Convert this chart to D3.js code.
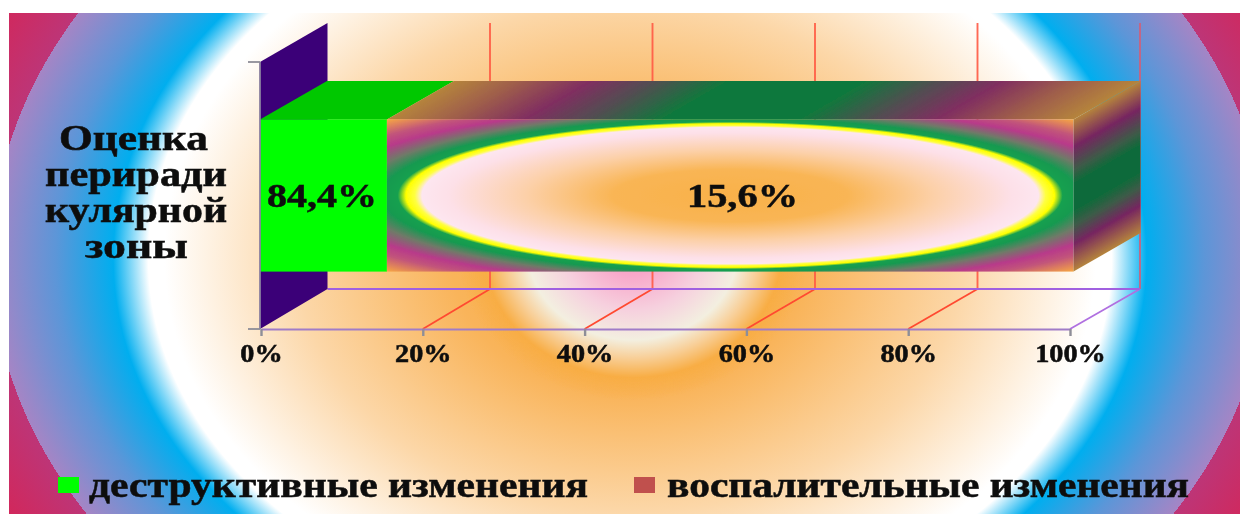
<!DOCTYPE html>
<html lang="ru"><head><meta charset="utf-8">
<script src="https://cdn.jsdelivr.net/npm/d3@7"></script>
<style>html,body{margin:0;padding:0;background:#fff;overflow:hidden}svg{display:block}
text{font-family:"Liberation Serif",serif;font-weight:bold;fill:#0c0c0c;stroke:#101010;stroke-width:.55px;paint-order:stroke}</style>
</head><body><svg id="c" width="1240" height="514"></svg>
<script>
const category = "Оценка перирадикулярной зоны";
const categoryLines = ["Оценка", "периради", "кулярной", "зоны"];
const seriesNames = ["деструктивные изменения", "воспалительные изменения"];
const barWidths = [15.6, 84.4];
const barLabels = ["84,4%", "15,6%"];
const tickValues = [0, 20, 40, 60, 80, 100];

const svg = d3.select("#c"), defs = svg.append("defs");
const xAxisS = d3.scaleLinear().domain([0,100]).range([261,1070]);
const xBar = d3.scaleLinear().domain([0,100]).range([260,1073.5]);
const depthX = 67, depthY = 38.5, floorDY = 40;
const xWall = d3.scaleLinear().domain([0,100]).range([327.5,1140]);
const y = d3.scaleBand().domain([category]).range([62,329]).paddingInner(.43).paddingOuter(.215);
const yTop = y(category), yBot = yTop + y.bandwidth();
const wallTop = 23, floorFront = y.range()[1], floorBack = floorFront - floorDY;

function stops(g, list){ g.selectAll("stop").data(list).join("stop")
  .attr("offset", d=>d[0]).attr("stop-color", d=>d[1]).attr("stop-opacity", d=>d[2]===undefined?1:d[2]); }

const f = defs.append("filter").attr("id","soft").attr("x","-5%").attr("y","-5%").attr("width","110%").attr("height","110%");
f.append("feGaussianBlur").attr("stdDeviation",.6);
const ft = defs.append("filter").attr("id","softT").attr("filterUnits","userSpaceOnUse").attr("x",0).attr("y",0).attr("width",1240).attr("height",514);
ft.append("feGaussianBlur").attr("stdDeviation",.75);

const RMAX = 1.2;
const bg = defs.append("radialGradient").attr("id","bg").attr("gradientUnits","userSpaceOnUse")
  .attr("cx",0).attr("cy",0).attr("r",1).attr("gradientTransform",`translate(630,258) scale(${638*RMAX},${488*RMAX})`);
stops(bg, [[0,"#f8a636"],[.28,"#f9b45a"],[.52,"#fcd7a8"],[.73,"#ffffff"],[.755,"#ffffff"],[.81,"#00aeef"],[.9,"#5c96d8"],[1,"#a585c5"],[1,"#bd3577"],[1.18,"#e01e48"]].map(d=>[d[0]/RMAX,d[1]]));

const glow = defs.append("radialGradient").attr("id","glow").attr("gradientUnits","userSpaceOnUse")
  .attr("cx",0).attr("cy",0).attr("r",1).attr("gradientTransform","translate(633,250) scale(175,150)");
stops(glow, [[0,"#f79ac4"],[.17,"#f8a8ca"],[.4,"#f6d0de"],[.6,"#f3efe0"],[.72,"#f8cf98"],[.85,"#f8ad44"],[1,"#f8ad44",0]]);

const front = defs.append("radialGradient").attr("id","front").attr("cx",.5).attr("cy",.5).attr("r",.7071);
stops(front, [[0,"#f9b14a"],[.24,"#f9b554"],[.42,"#fcd0a8"],[.58,"#fde0e8"],[.635,"#fde6f0"],[.65,"#ffff40"],[.668,"#ffff00"],[.685,"#12a050"],[.715,"#149a50"],[.77,"#6f7a68"],[.84,"#b83a8a"],[.9,"#c2557a"],[1,"#f7a743"]]);

const kT = -depthX/depthY;
const topG = defs.append("linearGradient").attr("id","topG").attr("gradientUnits","userSpaceOnUse")
  .attr("x1",xBar(barWidths[0])).attr("y1",0).attr("x2",xBar(100)).attr("y2",0)
  .attr("gradientTransform",`matrix(1,0,${kT},1,${-kT*yTop},0)`);
stops(topG, [[0,"#b5843c"],[.09,"#a0604a"],[.2,"#802e60"],[.3,"#4e5050"],[.4,"#10783c"],[.6,"#10783c"],[.7,"#4e5050"],[.8,"#802e60"],[.91,"#a0604a"],[1,"#b5843c"]]);

const mS = -depthY/depthX;
const sideG = defs.append("linearGradient").attr("id","sideG").attr("gradientUnits","userSpaceOnUse")
  .attr("x1",0).attr("y1",yTop).attr("x2",0).attr("y2",yBot)
  .attr("gradientTransform",`matrix(1,${mS},0,1,0,${-mS*xBar(100)})`);
stops(sideG, [[0,"#b5843c"],[.18,"#762560"],[.33,"#3e5a48"],[.42,"#106a3a"],[.6,"#106a3a"],[.7,"#3e5a48"],[.82,"#762560"],[1,"#b5843c"]]);

svg.append("rect").attr("x",9).attr("y",13).attr("width",1231).attr("height",501).attr("fill","url(#bg)");

const chart = svg.append("g").attr("filter","url(#soft)");
chart.append("rect").attr("x",450).attr("y",122).attr("width",370).attr("height",280).attr("fill","url(#glow)");

chart.append("g").selectAll("line").data(tickValues.slice(1)).join("line")
  .attr("x1",d=>xWall(d)).attr("x2",d=>xWall(d)).attr("y1",wallTop).attr("y2",floorBack)
  .attr("stroke",d=>d===100?"#d0607a":"#ff5a44").attr("stroke-opacity",.9).attr("stroke-width",1.9);
chart.append("g").selectAll("line").data(tickValues.slice(1)).join("line")
  .attr("x1",d=>xAxisS(d)).attr("x2",d=>xWall(d)).attr("y1",floorFront).attr("y2",floorBack)
  .attr("stroke",d=>d===100?"#b070e0":"#ff4a30").attr("stroke-width",1.8);
chart.append("line").attr("x1",xWall(0)).attr("x2",xWall(100)).attr("y1",floorBack).attr("y2",floorBack)
  .attr("stroke","#a060e0").attr("stroke-width",1.9);
const wallPts = [[xBar(0),y.range()[0]],[xWall(0),wallTop],[xWall(0),floorBack],[xBar(0),floorFront]];
chart.append("polygon").attr("points",wallPts.join(" ")).attr("fill","#3b0078");

let acc = 0;
const segs = barWidths.map((v,i)=>{ const s={i,start:acc,end:acc+v,label:barLabels[i]}; acc+=v; return s; });
const bars = chart.append("g");
bars.selectAll("polygon.top").data(segs).join("polygon").attr("class","top")
  .attr("points",d=>[[xBar(d.start),yTop],[xBar(d.end),yTop],[xBar(d.end)+depthX,yTop-depthY],[xBar(d.start)+depthX,yTop-depthY]].join(" "))
  .attr("fill",d=>d.i===0?"#00c800":"url(#topG)");
bars.selectAll("rect").data(segs).join("rect")
  .attr("x",d=>xBar(d.start)).attr("y",yTop).attr("width",d=>xBar(d.end)-xBar(d.start)).attr("height",y.bandwidth())
  .attr("fill",d=>d.i===0?"#00ff00":"url(#front)");
const last = segs[segs.length-1];
bars.append("polygon").attr("points",[[xBar(last.end),yTop],[xBar(last.end)+depthX,yTop-depthY],[xBar(last.end)+depthX,yBot-depthY],[xBar(last.end),yBot]].join(" "))
  .attr("fill","url(#sideG)");

const axG = chart.append("g").attr("transform",`translate(0,${floorFront})`)
  .call(d3.axisBottom(xAxisS).tickValues(tickValues).tickFormat(d=>d+"%").tickSize(7).tickSizeOuter(0).tickPadding(8));
axG.select(".domain").attr("stroke","#a07cc8").attr("stroke-width",1.9);
axG.selectAll(".tick line").attr("stroke","#8e8e98").attr("stroke-width",2.4);
axG.selectAll(".tick text").attr("font-size",25).attr("font-family",null).attr("fill","#101a1c")
  .each(function(){ this.setAttribute("textLength", this.getComputedTextLength()*1.13); this.setAttribute("lengthAdjust","spacingAndGlyphs"); });

const yAx = chart.append("g");
yAx.append("line").attr("x1",xBar(0)).attr("x2",xBar(0)).attr("y1",y.range()[0]).attr("y2",y.range()[1]).attr("stroke","#8a80a0").attr("stroke-width",1.8);
yAx.selectAll("line.t").data(y.range()).join("line").attr("class","t")
  .attr("x1",248).attr("x2",xBar(0)).attr("y1",d=>d).attr("y2",d=>d).attr("stroke","#8e8e98").attr("stroke-width",1.8);

const textG = svg.append("g").attr("filter","url(#softT)");
const labelWidths = [110, 111];
textG.selectAll("text.v").data(segs).join("text").attr("class","v")
  .attr("x",(d,i)=> i===0 ? 322 : 742.5)
  .attr("y",207).attr("text-anchor","middle").attr("font-size",34)
  .attr("textLength",(d,i)=>labelWidths[i]).attr("lengthAdjust","spacingAndGlyphs").text(d=>d.label);

const catWidths = [149,182,182,103], catX = [133.5,136,136,136.5], catY = [150,186,222,258];
textG.selectAll("text.c").data(categoryLines).join("text").attr("class","c")
  .attr("x",(d,i)=>catX[i]).attr("y",(d,i)=>catY[i]).attr("text-anchor","middle").attr("font-size",36)
  .attr("textLength",(d,i)=>catWidths[i]).attr("lengthAdjust","spacingAndGlyphs").text(d=>d);

const legSwatchX = [58,634], legTextX = [89,667], legTextW = [499,522], legColors = ["#00ff00","#c0504d"];
svg.append("g").selectAll("rect").data(seriesNames).join("rect")
  .attr("x",(d,i)=>legSwatchX[i]).attr("y",477).attr("width",21).attr("height",16).attr("fill",(d,i)=>legColors[i]);
textG.selectAll("text.l").data(seriesNames).join("text").attr("class","l")
  .attr("x",(d,i)=>legTextX[i]).attr("y",497).attr("font-size",36)
  .attr("textLength",(d,i)=>legTextW[i]).attr("lengthAdjust","spacingAndGlyphs").text(d=>d);
</script></body></html>
